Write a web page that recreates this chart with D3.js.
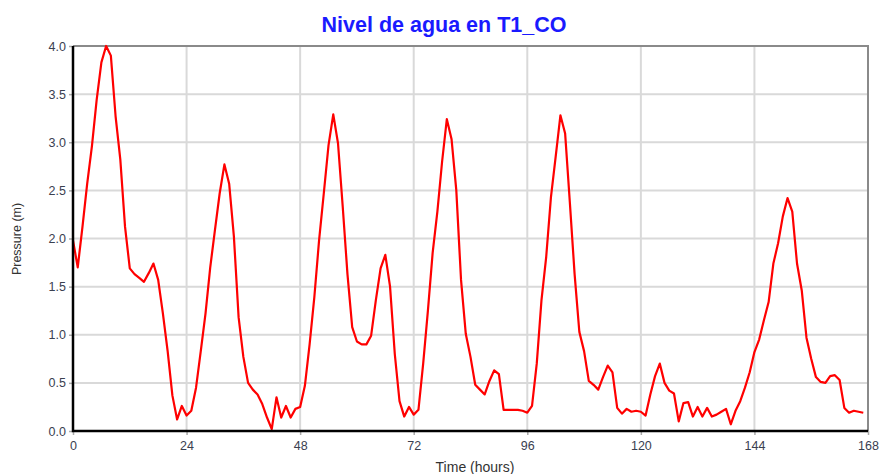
<!DOCTYPE html>
<html><head><meta charset="utf-8">
<script src="https://cdn.jsdelivr.net/npm/d3@7"></script>
<style>body{margin:0;background:#fff;}svg{display:block;font-family:"Liberation Sans",Arial,sans-serif;}</style>
</head><body><svg id="c" width="882" height="474"></svg>
<script>
const title = "Nivel de agua en T1_CO";
const xLabel = "Time (hours)";
const yLabel = "Pressure (m)";
const xTicks = [0,24,48,72,96,120,144,168];
const yTicks = [0,0.5,1,1.5,2,2.5,3,3.5,4];
// hourly pressure values, hours 0..167
const pressure = [
1.98,1.70,2.12,2.57,2.96,3.44,3.83,4.00,3.90,3.27,
2.82,2.12,1.69,1.63,1.59,1.55,1.64,1.74,1.57,1.22,
0.83,0.37,0.12,0.26,0.16,0.21,0.45,0.83,1.22,1.70,
2.09,2.47,2.77,2.57,2.02,1.18,0.77,0.50,0.43,0.38,
0.28,0.14,0.02,0.35,0.14,0.26,0.14,0.23,0.25,0.47,
0.90,1.39,1.98,2.47,2.97,3.29,2.99,2.33,1.63,1.08,
0.93,0.90,0.90,0.99,1.36,1.69,1.83,1.50,0.80,0.31,
0.15,0.25,0.17,0.22,0.70,1.25,1.85,2.28,2.80,3.24,
3.03,2.50,1.57,1.01,0.77,0.48,0.43,0.38,0.52,0.63,
0.59,0.22,0.22,0.22,0.22,0.21,0.19,0.26,0.70,1.36,
1.81,2.43,2.85,3.28,3.09,2.37,1.63,1.03,0.83,0.52,
0.48,0.43,0.56,0.68,0.61,0.24,0.18,0.23,0.20,0.21,
0.20,0.16,0.38,0.57,0.70,0.50,0.42,0.39,0.10,0.29,
0.30,0.15,0.25,0.15,0.24,0.15,0.17,0.20,0.23,0.07,
0.21,0.31,0.45,0.61,0.82,0.95,1.15,1.34,1.74,1.95,
2.23,2.42,2.28,1.74,1.46,0.97,0.75,0.56,0.51,0.50,
0.57,0.58,0.53,0.24,0.19,0.21,0.20,0.19
];
const hours = pressure.map((_, i) => i);

const svg = d3.select("#c");
const L = 73, R = 868, T = 46, B = 431;
const x = d3.scaleLinear().domain([0,168]).range([L,R]);
const y = d3.scaleLinear().domain([0,4]).range([B,T]);

// gridlines
svg.append("g").selectAll("line").data(xTicks.slice(1,-1)).join("line")
  .attr("x1", d=>x(d)).attr("x2", d=>x(d)).attr("y1", T).attr("y2", B)
  .attr("stroke", "#d9d9d9").attr("stroke-width", 2);
svg.append("g").selectAll("line").data(yTicks.slice(1,-1)).join("line")
  .attr("x1", L).attr("x2", R).attr("y1", d=>y(d)).attr("y2", d=>y(d))
  .attr("stroke", "#d9d9d9").attr("stroke-width", 2);

// frame top/right
svg.append("path").attr("d", `M${L},${T}H${R}V${B}`).attr("fill","none")
  .attr("stroke", "#8a8a8a").attr("stroke-width", 2);

// axes
const xAxis = d3.axisBottom(x).tickValues(xTicks).tickSize(4).tickSizeOuter(0).tickPadding(6);
const yAxis = d3.axisLeft(y).tickValues(yTicks).tickSize(4).tickSizeOuter(0).tickPadding(3).tickFormat(d3.format(".1f"));
const gx = svg.append("g").attr("transform", `translate(0,${B})`).call(xAxis);
const gy = svg.append("g").attr("transform", `translate(${L},0)`).call(yAxis);
[gx, gy].forEach(g => {
  g.select(".domain").remove();
  g.selectAll(".tick line").attr("stroke", "#aaa").attr("stroke-width", 1.5);
  g.selectAll(".tick text").attr("fill", "#3a4050").attr("font-size", 12.5)
    .attr("font-family", '"Liberation Sans",Arial,sans-serif');
});

// line
const line = d3.line().x((d,i)=>x(hours[i])).y(d=>y(d));
svg.append("path").datum(pressure).attr("d", line).attr("fill","none")
  .attr("stroke", "#ff0000").attr("stroke-width", 2.2).attr("stroke-linejoin","round");

// black left/bottom axis lines
svg.append("path").attr("d", `M${L},${T}V${B}H${R}`).attr("fill","none")
  .attr("stroke", "#000").attr("stroke-width", 2.5);

// title and labels
svg.append("text").attr("x", 444).attr("y", 32).attr("text-anchor","middle")
  .attr("font-size", 21.5).attr("font-weight","bold").attr("fill","#1a1aff").text(title);
svg.append("text").attr("x", 475).attr("y", 472).attr("text-anchor","middle")
  .attr("font-size", 14).attr("fill","#333").text(xLabel);
svg.append("text").attr("transform", "translate(21,239) rotate(-90)").attr("text-anchor","middle")
  .attr("font-size", 12.5).attr("fill","#333").text(yLabel);
</script></body></html>
